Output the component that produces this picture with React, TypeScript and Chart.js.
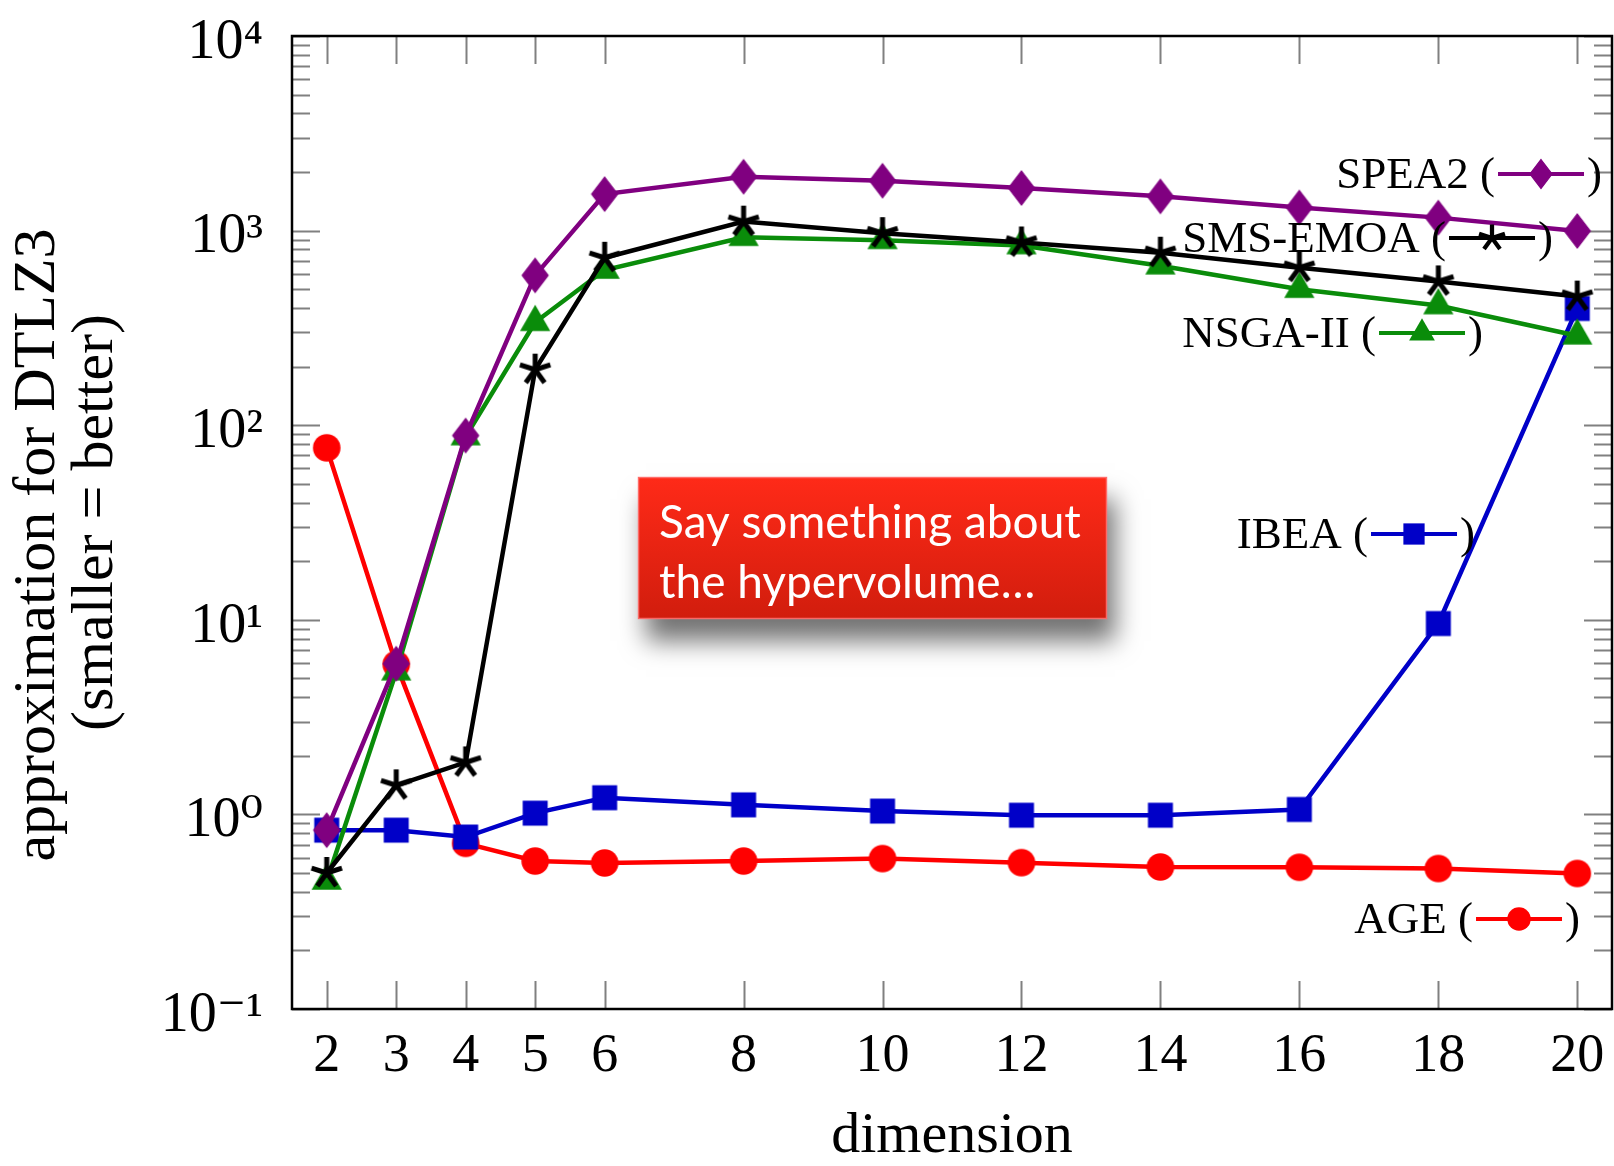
import React, { useEffect, useRef } from 'react';
import { Chart, registerables } from 'chart.js';

Chart.register(...registerables);

// ---------------- data ----------------
const dimensions = [2, 3, 4, 5, 6, 8, 10, 12, 14, 16, 18, 20];
const smsEmoa = [0.5, 1.41, 1.85, 193, 725, 1112, 970, 869, 770, 645, 548, 458];
const spea2 = [0.83, 5.95, 88.5, 589, 1540, 1892, 1804, 1656, 1500, 1315, 1166, 996];
const nsga2 = [0.455, 5.41, 87.4, 338, 627, 925, 891, 838, 660, 500, 412, 288];
const ibea = [0.83, 0.83, 0.765, 1.015, 1.218, 1.12, 1.04, 0.99, 0.99, 1.06, 9.57, 398];
const age = [76.5, 5.9, 0.71, 0.576, 0.563, 0.576, 0.593, 0.565, 0.537, 0.535, 0.527, 0.497];

const xTickValues = [2, 3, 4, 5, 6, 8, 10, 12, 14, 16, 18, 20];
const yTickValues = [0.1, 1, 10, 100, 1000, 10000];

const seriesNames = ['SMS-EMOA', 'SPEA2', 'NSGA-II', 'IBEA', 'AGE'];
const seriesColors = ['#000000', '#800080', '#0a8c0a', '#0000c8', '#ff0000'];
const seriesMarkers = ['star', 'diamond', 'triangle', 'rect', 'circle'];

const xTitle = 'dimension';
// trailing no-break spaces nudge the first line down, as in the original label
const yTitle = ['approximation for DTLZ3\u00A0\u00A0\u00A0', '(smaller = better)'];
const calloutLines = ['Say something about', 'the hypervolume…'];

// annotation placement (right edge of ")" and text baseline, in canvas px)
const legendPlacement = [
  { right: 1553, baseline: 252 }, // SMS-EMOA
  { right: 1602, baseline: 188 }, // SPEA2
  { right: 1483, baseline: 347 }, // NSGA-II
  { right: 1475, baseline: 548 }, // IBEA
  { right: 1580, baseline: 933 }, // AGE
];

const SERIF = '"Liberation Serif", "Times New Roman", "DejaVu Serif", serif';

// ---------------- markers ----------------
function makeMarker(kind: string, color: string, s: number): HTMLCanvasElement {
  const size = Math.round(46 * s) + (Math.round(46 * s) % 2);
  const c = document.createElement('canvas');
  c.width = size;
  c.height = size;
  const g = c.getContext('2d')!;
  const cx = size / 2;
  const cy = size / 2;
  g.fillStyle = color;
  g.strokeStyle = color;
  g.lineWidth = 1.2;
  g.beginPath();
  if (kind === 'diamond') {
    const w = 26 * s, h = 34 * s;
    g.moveTo(cx, cy - h / 2);
    g.lineTo(cx + w / 2, cy);
    g.lineTo(cx, cy + h / 2);
    g.lineTo(cx - w / 2, cy);
    g.closePath();
    g.fill();
    g.stroke();
  } else if (kind === 'rect') {
    const a = 25 * s;
    g.rect(cx - a / 2, cy - a / 2, a, a);
    g.fill();
  } else if (kind === 'circle') {
    g.arc(cx, cy, 13.8 * s, 0, Math.PI * 2);
    g.fill();
  } else if (kind === 'triangle') {
    const r = 17.5 * s;
    for (let k = 0; k < 3; k++) {
      const a = -Math.PI / 2 + (k * 2 * Math.PI) / 3;
      const px = cx + r * Math.cos(a);
      const py = cy + r * Math.sin(a);
      if (k === 0) g.moveTo(px, py);
      else g.lineTo(px, py);
    }
    g.closePath();
    g.fill();
  } else if (kind === 'star') {
    const r = 16 * s;
    g.lineWidth = 5 * s;
    for (let k = 0; k < 5; k++) {
      const a = -Math.PI / 2 + (k * 2 * Math.PI) / 5;
      g.moveTo(cx, cy);
      g.lineTo(cx + r * Math.cos(a), cy + r * Math.sin(a));
    }
    g.stroke();
  }
  return c;
}

const SUP: Record<string, string> = {
  '-': '\u207B', '0': '\u2070', '1': '\u00B9', '2': '\u00B2', '3': '\u00B3',
  '4': '\u2074', '5': '\u2075', '6': '\u2076', '7': '\u2077', '8': '\u2078', '9': '\u2079',
};
const powerLabel = (v: number) =>
  '10' + String(Math.round(Math.log10(v))).split('').map((ch) => SUP[ch] || ch).join('');

// ---------------- plugins ----------------
const backgroundPlugin = {
  id: 'bg',
  beforeDraw(chart: any) {
    const ctx = chart.ctx;
    ctx.save();
    ctx.fillStyle = '#ffffff';
    ctx.fillRect(0, 0, chart.width, chart.height);
    ctx.restore();
  },
};

const axisDecorPlugin = {
  id: 'axisDecor',
  beforeDatasetsDraw(chart: any) {
    const { ctx, chartArea } = chart;
    const { left, right, top, bottom } = chartArea;
    const xs = chart.scales.x;
    const ys = chart.scales.y;
    ctx.save();
    ctx.strokeStyle = '#808080';
    ctx.lineWidth = 2;
    ctx.beginPath();
    for (let e = -1; e <= 4; e++) {
      for (let m = 1; m <= 9; m++) {
        const v = m * Math.pow(10, e);
        if (v < ys.min * 0.999 || v > ys.max * 1.001) continue;
        const py = Math.round(ys.getPixelForValue(v)) + 0.5;
        const len = m === 1 ? 28 : 18;
        ctx.moveTo(left, py);
        ctx.lineTo(left + len, py);
        ctx.moveTo(right, py);
        ctx.lineTo(right - len, py);
      }
    }
    xs.ticks.forEach((t: any) => {
      const px = Math.round(xs.getPixelForValue(t.value)) + 0.5;
      ctx.moveTo(px, bottom);
      ctx.lineTo(px, bottom - 28);
      ctx.moveTo(px, top);
      ctx.lineTo(px, top + 28);
    });
    ctx.stroke();
    ctx.strokeStyle = '#000000';
    ctx.lineWidth = 2.5;
    ctx.strokeRect(left, top, right - left, bottom - top);
    ctx.restore();
  },
};

const annotationPlugin = {
  id: 'annotations',
  afterDraw(chart: any) {
    const ctx = chart.ctx;
    ctx.save();
    // in-plot legend labels
    ctx.font = `45px ${SERIF}`;
    ctx.textBaseline = 'alphabetic';
    ctx.textAlign = 'right';
    seriesNames.forEach((name, i) => {
      const p = legendPlacement[i];
      const color = seriesColors[i];
      let x = p.right;
      ctx.fillStyle = '#000';
      ctx.fillText(')', x, p.baseline);
      x -= ctx.measureText(')').width + 3;
      const sampleLen = 86;
      const sy = p.baseline - 14;
      ctx.strokeStyle = color;
      ctx.lineWidth = 4;
      ctx.beginPath();
      ctx.moveTo(x - sampleLen, sy);
      ctx.lineTo(x, sy);
      ctx.stroke();
      const mk = makeMarker(seriesMarkers[i], color, 0.85);
      ctx.drawImage(mk, Math.round(x - sampleLen / 2 - mk.width / 2), Math.round(sy - mk.height / 2));
      x -= sampleLen + 3;
      ctx.fillStyle = '#000';
      ctx.fillText(name + ' (', x, p.baseline);
    });

    // callout box
    const bx = 638, by = 477, bw = 469, bh = 142;
    ctx.save();
    ctx.shadowColor = 'rgba(0,0,0,0.55)';
    ctx.shadowBlur = 24;
    ctx.shadowOffsetX = 8;
    ctx.shadowOffsetY = 22;
    const grad = ctx.createLinearGradient(0, by, 0, by + bh);
    grad.addColorStop(0, '#ff2a18');
    grad.addColorStop(1, '#d11d0d');
    ctx.fillStyle = grad;
    ctx.fillRect(bx, by, bw, bh);
    ctx.restore();
    ctx.strokeStyle = 'rgba(255,120,120,0.85)';
    ctx.lineWidth = 1.5;
    ctx.strokeRect(bx + 0.5, by + 0.5, bw - 1, bh - 1);
    ctx.fillStyle = '#ffffff';
    ctx.textAlign = 'left';
    ctx.font = '46px Lato, "Open Sans", sans-serif';
    ctx.fillText(calloutLines[0], 659, 538);
    ctx.fillText(calloutLines[1], 659, 598);
    ctx.restore();
  },
};

export default function App() {
  const ref = useRef<HTMLCanvasElement>(null);
  useEffect(() => {
    const seriesData = [smsEmoa, spea2, nsga2, ibea, age];
    const datasets = seriesNames.map((name, i) => ({
      label: name,
      data: dimensions.map((d, k) => ({ x: d, y: seriesData[i][k] })),
      borderColor: seriesColors[i],
      backgroundColor: seriesColors[i],
      borderWidth: 4.5,
      pointStyle: makeMarker(seriesMarkers[i], seriesColors[i], 1),
      pointRadius: 14,
      tension: 0,
      fill: false,
    }));
    const chart = new Chart(ref.current!, {
      type: 'line',
      data: { datasets },
      options: {
        responsive: false,
        animation: false,
        events: [],
        layout: { autoPadding: false, padding: { top: 36, right: 2, left: 0, bottom: 0 } },
        plugins: { legend: { display: false }, tooltip: { enabled: false } },
        scales: {
          x: {
            type: 'linear',
            min: 1.5,
            max: 20.5,
            afterBuildTicks: (s: any) => {
              s.ticks = xTickValues.map((v) => ({ value: v }));
            },
            afterFit: (s: any) => {
              s.height = 157;
              s.paddingLeft = 0;
              s.paddingRight = 0;
            },
            grid: { display: false, drawTicks: false },
            border: { display: false },
            ticks: {
              font: { family: SERIF, size: 54 },
              color: '#000',
              padding: 15,
              maxRotation: 0,
              autoSkip: false,
              callback: (v: any) => String(v),
            },
            title: {
              display: true,
              text: xTitle,
              color: '#000',
              font: { family: SERIF, size: 58, lineHeight: 1.0 },
              padding: { top: 0, bottom: 0 },
            },
          },
          y: {
            type: 'logarithmic',
            min: 0.1,
            max: 10000,
            afterBuildTicks: (s: any) => {
              s.ticks = yTickValues.map((v) => ({ value: v, major: true }));
            },
            afterFit: (s: any) => {
              s.width = 292;
              s.paddingTop = 0;
              s.paddingBottom = 0;
            },
            grid: { display: false, drawTicks: false },
            border: { display: false },
            ticks: {
              font: { family: SERIF, size: 56 },
              color: '#000',
              padding: 29,
              autoSkip: false,
              labelOffset: 7,
              callback: (v: any) => powerLabel(Number(v)),
            },
            title: {
              display: true,
              text: yTitle,
              color: '#000',
              font: { family: SERIF, size: 60, lineHeight: 0.967 },
              padding: { top: 9, bottom: 0 },
            },
          },
        },
      },
      plugins: [backgroundPlugin, axisDecorPlugin, annotationPlugin],
    } as any);
    return () => chart.destroy();
  }, []);
  return (
    <div style={{ position: 'fixed', left: 0, top: 0, width: 1614, height: 1166, background: '#fff' }}>
      <canvas ref={ref} width={1614} height={1166} style={{ display: 'block', width: 1614, height: 1166 }} />
    </div>
  );
}
